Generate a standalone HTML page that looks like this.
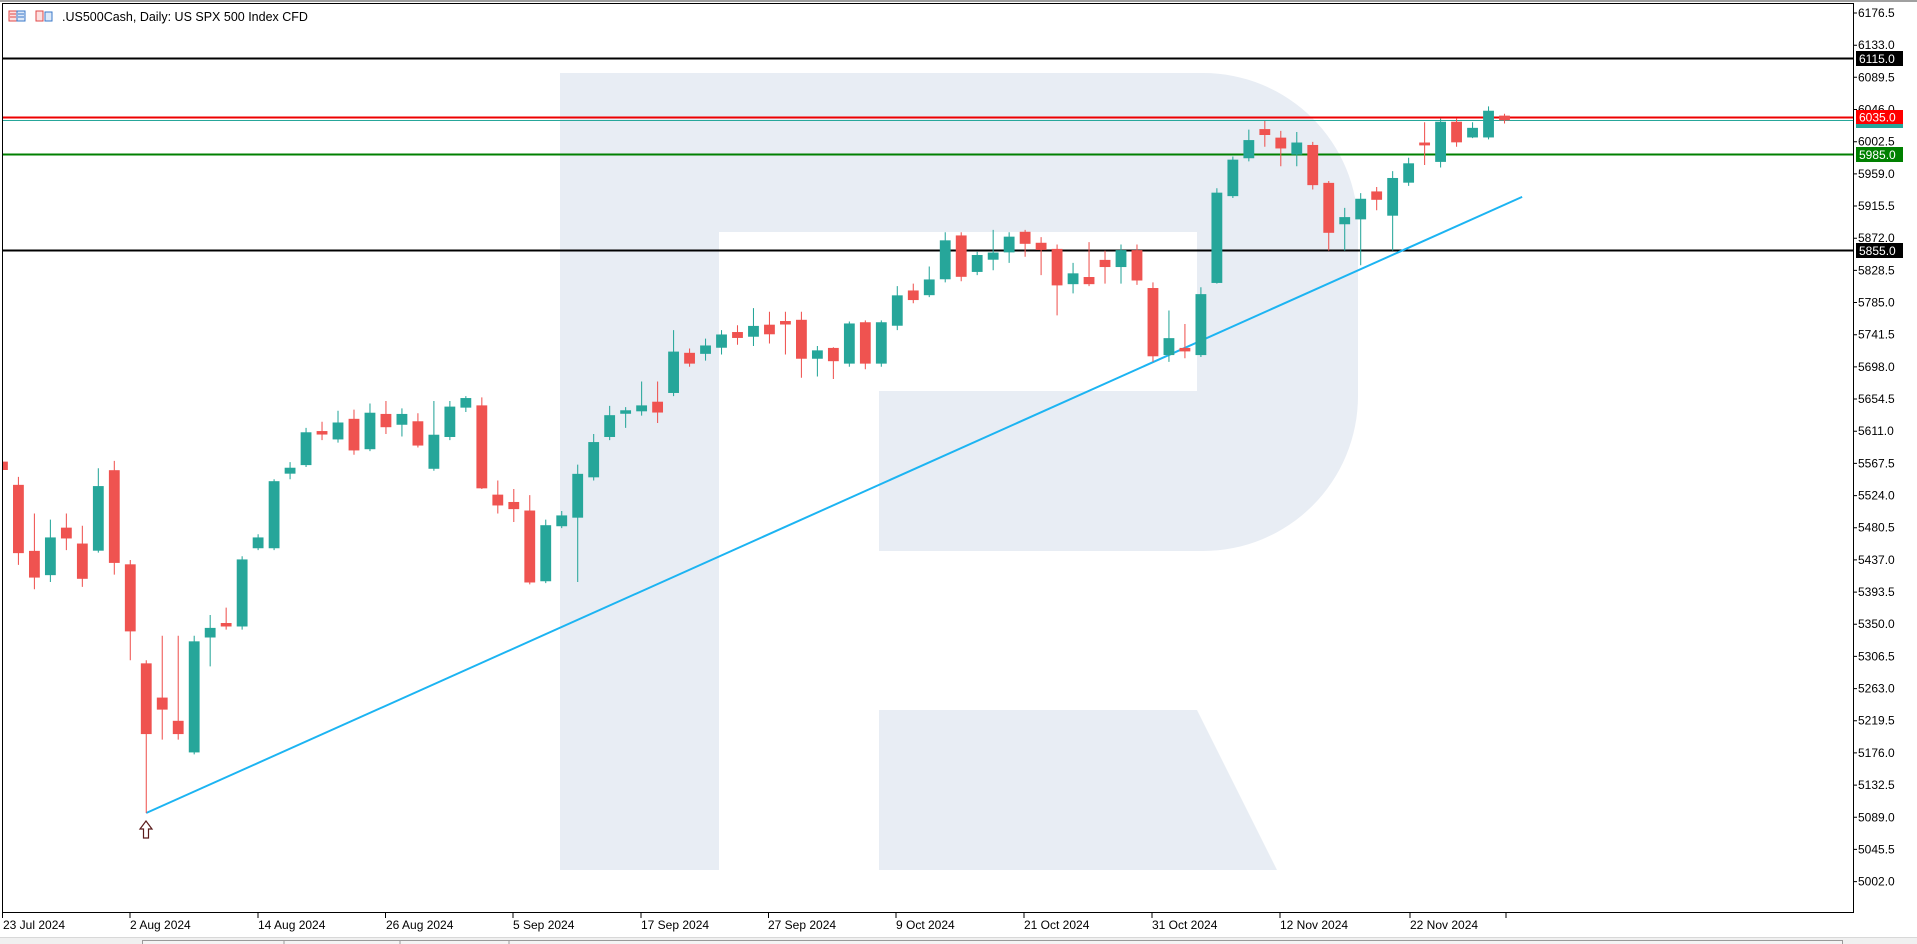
<!DOCTYPE html>
<html><head><meta charset="utf-8"><style>
html,body{margin:0;padding:0;background:#fff;}
svg{display:block;font-family:"Liberation Sans",Arial,sans-serif;}
</style></head><body>
<svg width="1917" height="944" viewBox="0 0 1917 944" xmlns="http://www.w3.org/2000/svg">
<rect x="0" y="0" width="1917" height="944" fill="#fff"/>
<rect x="0" y="0" width="1917" height="2" fill="#a0a0a0"/>
<defs><clipPath id="pc"><rect x="3" y="4" width="1850" height="908"/></clipPath></defs>
<g clip-path="url(#pc)">
<!-- watermark -->
<path d="M560 73 H1203 A155 155 0 0 1 1358 228 V396 A155 155 0 0 1 1203 551 H879 V870 H560 Z" fill="#e8edf4"/>
<rect x="719" y="232" width="478" height="159" fill="#fff"/>
<rect x="719" y="391" width="160" height="480" fill="#fff"/>
<path d="M879 710 H1197 L1277 870 H879 Z" fill="#e8edf4"/>
<!-- horizontal lines -->
<line x1="0" y1="58.5" x2="1853" y2="58.5" stroke="#000" stroke-width="2"/>
<line x1="0" y1="120.5" x2="1853" y2="120.5" stroke="#26a69a" stroke-width="1"/>
<line x1="0" y1="117.5" x2="1853" y2="117.5" stroke="#e00" stroke-width="2"/>
<line x1="0" y1="154.5" x2="1853" y2="154.5" stroke="#008000" stroke-width="2"/>
<line x1="0" y1="250.5" x2="1853" y2="250.5" stroke="#000" stroke-width="2"/>
<g transform="scale(1.2226)">
<line x1="119.6" y1="665" x2="1245" y2="161" stroke="#1cb4f2" stroke-width="1.6"/>
<g fill="#ef5350" stroke="#ef5350" stroke-width="0.85">
<path d="M2 372V388M15.07 390V462M28.14 420V482M54.28 420V450M67.35 430V480M93.49 377V470M106.56 458V540M119.63 540V665M132.7 520V605M145.77 520V605M184.98 497V515M263.4 345V360M289.54 335V372M315.68 328V355M341.82 338V366M394.1 325V400M407.17 393V420M420.24 400V427M433.31 405V478M537.87 312V346M564.01 285V300M603.22 266V282M629.36 255V281M642.43 255V290M655.5 255V309M681.64 284V310M707.78 262V302M746.99 232V248M786.2 190V230M838.48 188V210M851.55 194V225M864.62 200V258M890.76 198V234M903.83 205V232M929.97 200V233M943.04 231V296M969.18 265V293M1034.53 99V120M1047.6 107V136M1073.74 116V155M1086.81 148V205M1126.02 153V172M1165.23 100V135M1191.37 97V120M1230.58 93V101"/>
<rect x="-2" y="378" width="8" height="6"/><rect x="11.07" y="397" width="8" height="55"/><rect x="24.14" y="451" width="8" height="21"/><rect x="50.28" y="432" width="8" height="8"/><rect x="63.35" y="445" width="8" height="28"/><rect x="89.49" y="385" width="8" height="75"/><rect x="102.56" y="462" width="8" height="54"/><rect x="115.63" y="543" width="8" height="57"/><rect x="128.7" y="571" width="8" height="9"/><rect x="141.77" y="590" width="8" height="10"/><rect x="180.98" y="510" width="8" height="2"/><rect x="259.4" y="353" width="8" height="2"/><rect x="285.54" y="343" width="8" height="25"/><rect x="311.68" y="339" width="8" height="10"/><rect x="337.82" y="345" width="8" height="19"/><rect x="390.1" y="332" width="8" height="67"/><rect x="403.17" y="405" width="8" height="8"/><rect x="416.24" y="411" width="8" height="5"/><rect x="429.31" y="418" width="8" height="58"/><rect x="533.87" y="329" width="8" height="8"/><rect x="560.01" y="289" width="8" height="8"/><rect x="599.22" y="272" width="8" height="4"/><rect x="625.36" y="266" width="8" height="7"/><rect x="638.43" y="263" width="8" height="2"/><rect x="651.5" y="262" width="8" height="31"/><rect x="677.64" y="285" width="8" height="10"/><rect x="703.78" y="264" width="8" height="33"/><rect x="742.99" y="238" width="8" height="7"/><rect x="782.2" y="193" width="8" height="33"/><rect x="834.48" y="190" width="8" height="9"/><rect x="847.55" y="199" width="8" height="5"/><rect x="860.62" y="204" width="8" height="29"/><rect x="886.76" y="227" width="8" height="5"/><rect x="899.83" y="213" width="8" height="5"/><rect x="925.97" y="205" width="8" height="24"/><rect x="939.04" y="236" width="8" height="55"/><rect x="965.18" y="285" width="8" height="2"/><rect x="1030.53" y="106" width="8" height="4"/><rect x="1043.6" y="113" width="8" height="8"/><rect x="1069.74" y="119" width="8" height="32"/><rect x="1082.81" y="150" width="8" height="40"/><rect x="1122.02" y="157" width="8" height="6"/><rect x="1161.23" y="117" width="8" height="1.5"/><rect x="1187.37" y="100" width="8" height="16"/><rect x="1226.58" y="95" width="8" height="3"/>
</g>
<g fill="#26a69a" stroke="#26a69a" stroke-width="0.85">
<path d="M41.21 425V476M80.42 383V452M158.84 520V617M171.91 503V545M198.05 455V515M211.12 437V450M224.19 392V450M237.26 378V392M250.33 350V382M276.47 336V362M302.61 330V369M328.75 334V357M354.89 328V385M367.96 328V360M381.03 324V337M446.38 425V477M459.45 418V432M472.52 380V476M485.59 355V393M498.66 332V360M511.73 333V350M524.8 312V340M550.94 270V324M577.08 277V295M590.15 270V290M616.29 252V283M668.57 283V308M694.71 263V300M720.85 262V300M733.92 234V270M760.06 218V243M773.13 190V231M799.27 206V225M812.34 188V221M825.41 190V215M877.69 215V240M916.9 200V232M956.11 254V296M982.25 235V292M995.32 154V232M1008.39 128V162M1021.46 106V132M1060.67 108V136M1099.88 170V205M1112.95 158V217M1139.09 140V205M1152.16 129V152M1178.3 97V137M1204.44 100V113M1217.51 87V114"/>
<rect x="37.21" y="440" width="8" height="30"/><rect x="76.42" y="398" width="8" height="52"/><rect x="154.84" y="525" width="8" height="90"/><rect x="167.91" y="514" width="8" height="7"/><rect x="194.05" y="458" width="8" height="54"/><rect x="207.12" y="440" width="8" height="8"/><rect x="220.19" y="394" width="8" height="54"/><rect x="233.26" y="383" width="8" height="4"/><rect x="246.33" y="354" width="8" height="26"/><rect x="272.47" y="346" width="8" height="13"/><rect x="298.61" y="338" width="8" height="29"/><rect x="324.75" y="339" width="8" height="8"/><rect x="350.89" y="356" width="8" height="27"/><rect x="363.96" y="333" width="8" height="24"/><rect x="377.03" y="326" width="8" height="7"/><rect x="442.38" y="430" width="8" height="45"/><rect x="455.45" y="422" width="8" height="8"/><rect x="468.52" y="388" width="8" height="35"/><rect x="481.59" y="362" width="8" height="28"/><rect x="494.66" y="340" width="8" height="17"/><rect x="507.73" y="336" width="8" height="2"/><rect x="520.8" y="332" width="8" height="4"/><rect x="546.94" y="288" width="8" height="33"/><rect x="573.08" y="283" width="8" height="6"/><rect x="586.15" y="274" width="8" height="10"/><rect x="612.29" y="267" width="8" height="8"/><rect x="664.57" y="287" width="8" height="6"/><rect x="690.71" y="265" width="8" height="32"/><rect x="716.85" y="264" width="8" height="33"/><rect x="729.92" y="242" width="8" height="24"/><rect x="756.06" y="229" width="8" height="12"/><rect x="769.13" y="197" width="8" height="31"/><rect x="795.27" y="209" width="8" height="13"/><rect x="808.34" y="207" width="8" height="5"/><rect x="821.41" y="194" width="8" height="12"/><rect x="873.69" y="224" width="8" height="8"/><rect x="912.9" y="205" width="8" height="13"/><rect x="952.11" y="277" width="8" height="13"/><rect x="978.25" y="241" width="8" height="49"/><rect x="991.32" y="158" width="8" height="73"/><rect x="1004.39" y="131" width="8" height="29"/><rect x="1017.46" y="115" width="8" height="14"/><rect x="1056.67" y="117" width="8" height="9"/><rect x="1095.88" y="178" width="8" height="5"/><rect x="1108.95" y="163" width="8" height="16"/><rect x="1135.09" y="146" width="8" height="30"/><rect x="1148.16" y="134" width="8" height="15"/><rect x="1174.3" y="100" width="8" height="32"/><rect x="1200.44" y="105" width="8" height="7"/><rect x="1213.51" y="91" width="8" height="21"/>
</g>
</g>
<!-- arrow -->
<path d="M146 821 L140 829 H143.5 V838 H148.5 V829 H152 Z" fill="#fff" stroke="#5a1a1a" stroke-width="1.2"/>
</g>
<!-- frame -->
<rect x="2.5" y="3.5" width="1851" height="909" fill="none" stroke="#000" stroke-width="1"/>
<!-- header -->
<g>
<rect x="9" y="11" width="8" height="10" fill="#fde0e0" stroke="#e04848"/><rect x="17" y="11" width="8" height="10" fill="#dde9f8" stroke="#3a78c8"/>
<line x1="10" y1="14" x2="16" y2="14" stroke="#e04848"/><line x1="10" y1="17" x2="16" y2="17" stroke="#e04848"/><line x1="18" y1="14" x2="24" y2="14" stroke="#3a78c8"/><line x1="18" y1="17" x2="24" y2="17" stroke="#3a78c8"/>
<rect x="36" y="11" width="7" height="10" fill="#fde0e0" stroke="#e04848"/><rect x="45" y="12" width="7" height="9" fill="#dde9f8" stroke="#3a78c8"/>
<text x="62" y="21" font-size="12.5" fill="#000">.US500Cash, Daily:  US SPX 500 Index CFD</text>
</g>
<!-- price axis -->
<g font-size="12" fill="#000" stroke="none">
<g stroke="#000" stroke-width="1">
<path d="M1853 13H1857M1853 45.2H1857M1853 77.3H1857M1853 109.5H1857M1853 141.7H1857M1853 173.9H1857M1853 206H1857M1853 238.2H1857M1853 270.4H1857M1853 302.5H1857M1853 334.7H1857M1853 366.9H1857M1853 399H1857M1853 431.2H1857M1853 463.4H1857M1853 495.6H1857M1853 527.7H1857M1853 559.9H1857M1853 592.1H1857M1853 624.2H1857M1853 656.4H1857M1853 688.6H1857M1853 720.7H1857M1853 752.9H1857M1853 785.1H1857M1853 817.3H1857M1853 849.4H1857M1853 881.6H1857"/>
</g>
<text x="1858" y="17">6176.5</text><text x="1858" y="49.2">6133.0</text><text x="1858" y="81.3">6089.5</text><text x="1858" y="113.5">6046.0</text><text x="1858" y="145.7">6002.5</text><text x="1858" y="177.9">5959.0</text><text x="1858" y="210">5915.5</text><text x="1858" y="242.2">5872.0</text><text x="1858" y="274.4">5828.5</text><text x="1858" y="306.5">5785.0</text><text x="1858" y="338.7">5741.5</text><text x="1858" y="370.9">5698.0</text><text x="1858" y="403">5654.5</text><text x="1858" y="435.2">5611.0</text><text x="1858" y="467.4">5567.5</text><text x="1858" y="499.6">5524.0</text><text x="1858" y="531.7">5480.5</text><text x="1858" y="563.9">5437.0</text><text x="1858" y="596.1">5393.5</text><text x="1858" y="628.2">5350.0</text><text x="1858" y="660.4">5306.5</text><text x="1858" y="692.6">5263.0</text><text x="1858" y="724.7">5219.5</text><text x="1858" y="756.9">5176.0</text><text x="1858" y="789.1">5132.5</text><text x="1858" y="821.3">5089.0</text><text x="1858" y="853.4">5045.5</text><text x="1858" y="885.6">5002.0</text>
<rect x="1856" y="51" width="47" height="15" fill="#000"/><text x="1859" y="63" fill="#fff">6115.0</text>
<rect x="1856" y="123" width="47" height="5" fill="#26a69a"/>
<rect x="1856" y="110" width="47" height="14" fill="#f00"/><text x="1859" y="121.5" fill="#fff">6035.0</text>
<rect x="1856" y="147" width="47" height="15" fill="#008000"/><text x="1859" y="159" fill="#fff">5985.0</text>
<rect x="1856" y="243" width="47" height="15" fill="#000"/><text x="1859" y="255" fill="#fff">5855.0</text>
</g>
<!-- date axis -->
<g font-size="12" fill="#000">
<path d="M2.5 913V918M130 913V918M258 913V918M385.5 913V918M513 913V918M641 913V918M768.5 913V918M896 913V918M1024 913V918M1152 913V918M1280 913V918M1410 913V918M1506 913V918" stroke="#000"/>
<text x="3" y="929">23 Jul 2024</text><text x="130" y="929">2 Aug 2024</text><text x="258" y="929">14 Aug 2024</text><text x="386" y="929">26 Aug 2024</text><text x="513" y="929">5 Sep 2024</text><text x="641" y="929">17 Sep 2024</text><text x="768" y="929">27 Sep 2024</text><text x="896" y="929">9 Oct 2024</text><text x="1024" y="929">21 Oct 2024</text><text x="1152" y="929">31 Oct 2024</text><text x="1280" y="929">12 Nov 2024</text><text x="1410" y="929">22 Nov 2024</text>
</g>
<!-- bottom tab strip -->
<rect x="0" y="937" width="1917" height="7" fill="#f0f0f0"/>
<line x1="0" y1="937.5" x2="1917" y2="937.5" stroke="#d8d8d8"/>
<rect x="142.5" y="940.5" width="1700" height="4" fill="#f4f4f4" stroke="#9a9a9a"/>
<path d="M284 941V944M400 941V944M509 941V944" stroke="#9a9a9a"/>
</svg>
</body></html>
